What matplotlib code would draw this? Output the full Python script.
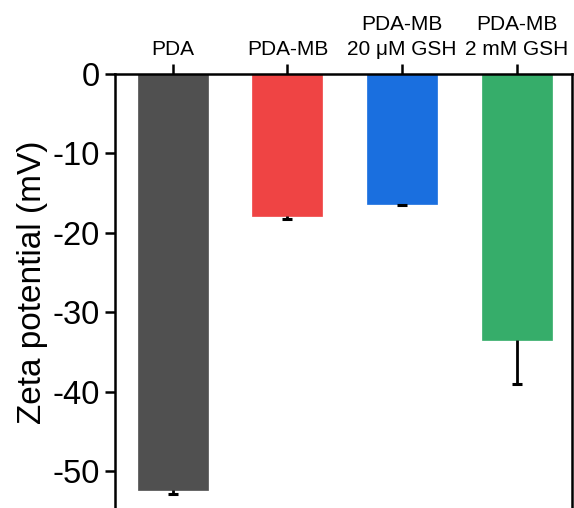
import matplotlib
matplotlib.use("Agg")
import matplotlib.pyplot as plt

categories = ["PDA", "PDA-MB", "PDA-MB\n20 μM GSH", "PDA-MB\n2 mM GSH"]
values = [-52.3, -17.9, -16.3, -33.5]
errors = [0.6, 0.4, 0.2, 5.5]
colors = ["#505050", "#EF4444", "#1A6FDF", "#36AD6A"]
yticks = [0, -10, -20, -30, -40, -50]

plt.rcParams['font.family'] = ['Liberation Sans', 'DejaVu Sans']

fig = plt.figure(figsize=(5.74, 5.08), dpi=100)
W, H = 574, 508
ax = fig.add_axes([115 / W, 0 / H, (572 - 115) / W, (508 - 74) / H])

x = list(range(len(categories)))
ax.bar(x, values, width=0.61, color=colors, edgecolor=colors, linewidth=0.5, zorder=2)
lows = [v - e for v, e in zip(values, errors)]
ax.vlines(x, values, lows, colors='black', linewidth=2.0, zorder=3)
ax.plot(x, lows, linestyle='none', marker='_', markersize=7.5, markeredgewidth=2.2,
        color='black', zorder=3)

ax.set_xlim(-0.503, 3.48)
ax.set_ylim(-54.6, 0)
ax.xaxis.tick_top()
ax.set_xticks(x)
ax.set_xticklabels(categories, fontsize=15, linespacing=1.4)
ax.set_yticks(yticks)
ax.set_yticklabels([str(v) for v in yticks], fontsize=23.5)
ax.tick_params(axis='x', direction='out', length=7, width=1.8, pad=4)
ax.tick_params(axis='y', direction='out', length=7.2, width=1.8, pad=3.5)
ax.set_ylabel("Zeta potential (mV)", fontsize=24)
ax.yaxis.set_label_coords((48 - 115) / (572 - 115), 0.5 + (291 - 282) / 434)

for s in ['top', 'left', 'right']:
    ax.spines[s].set_linewidth(1.8)
ax.spines['bottom'].set_visible(False)

fig.savefig("out.png", dpi=100)
